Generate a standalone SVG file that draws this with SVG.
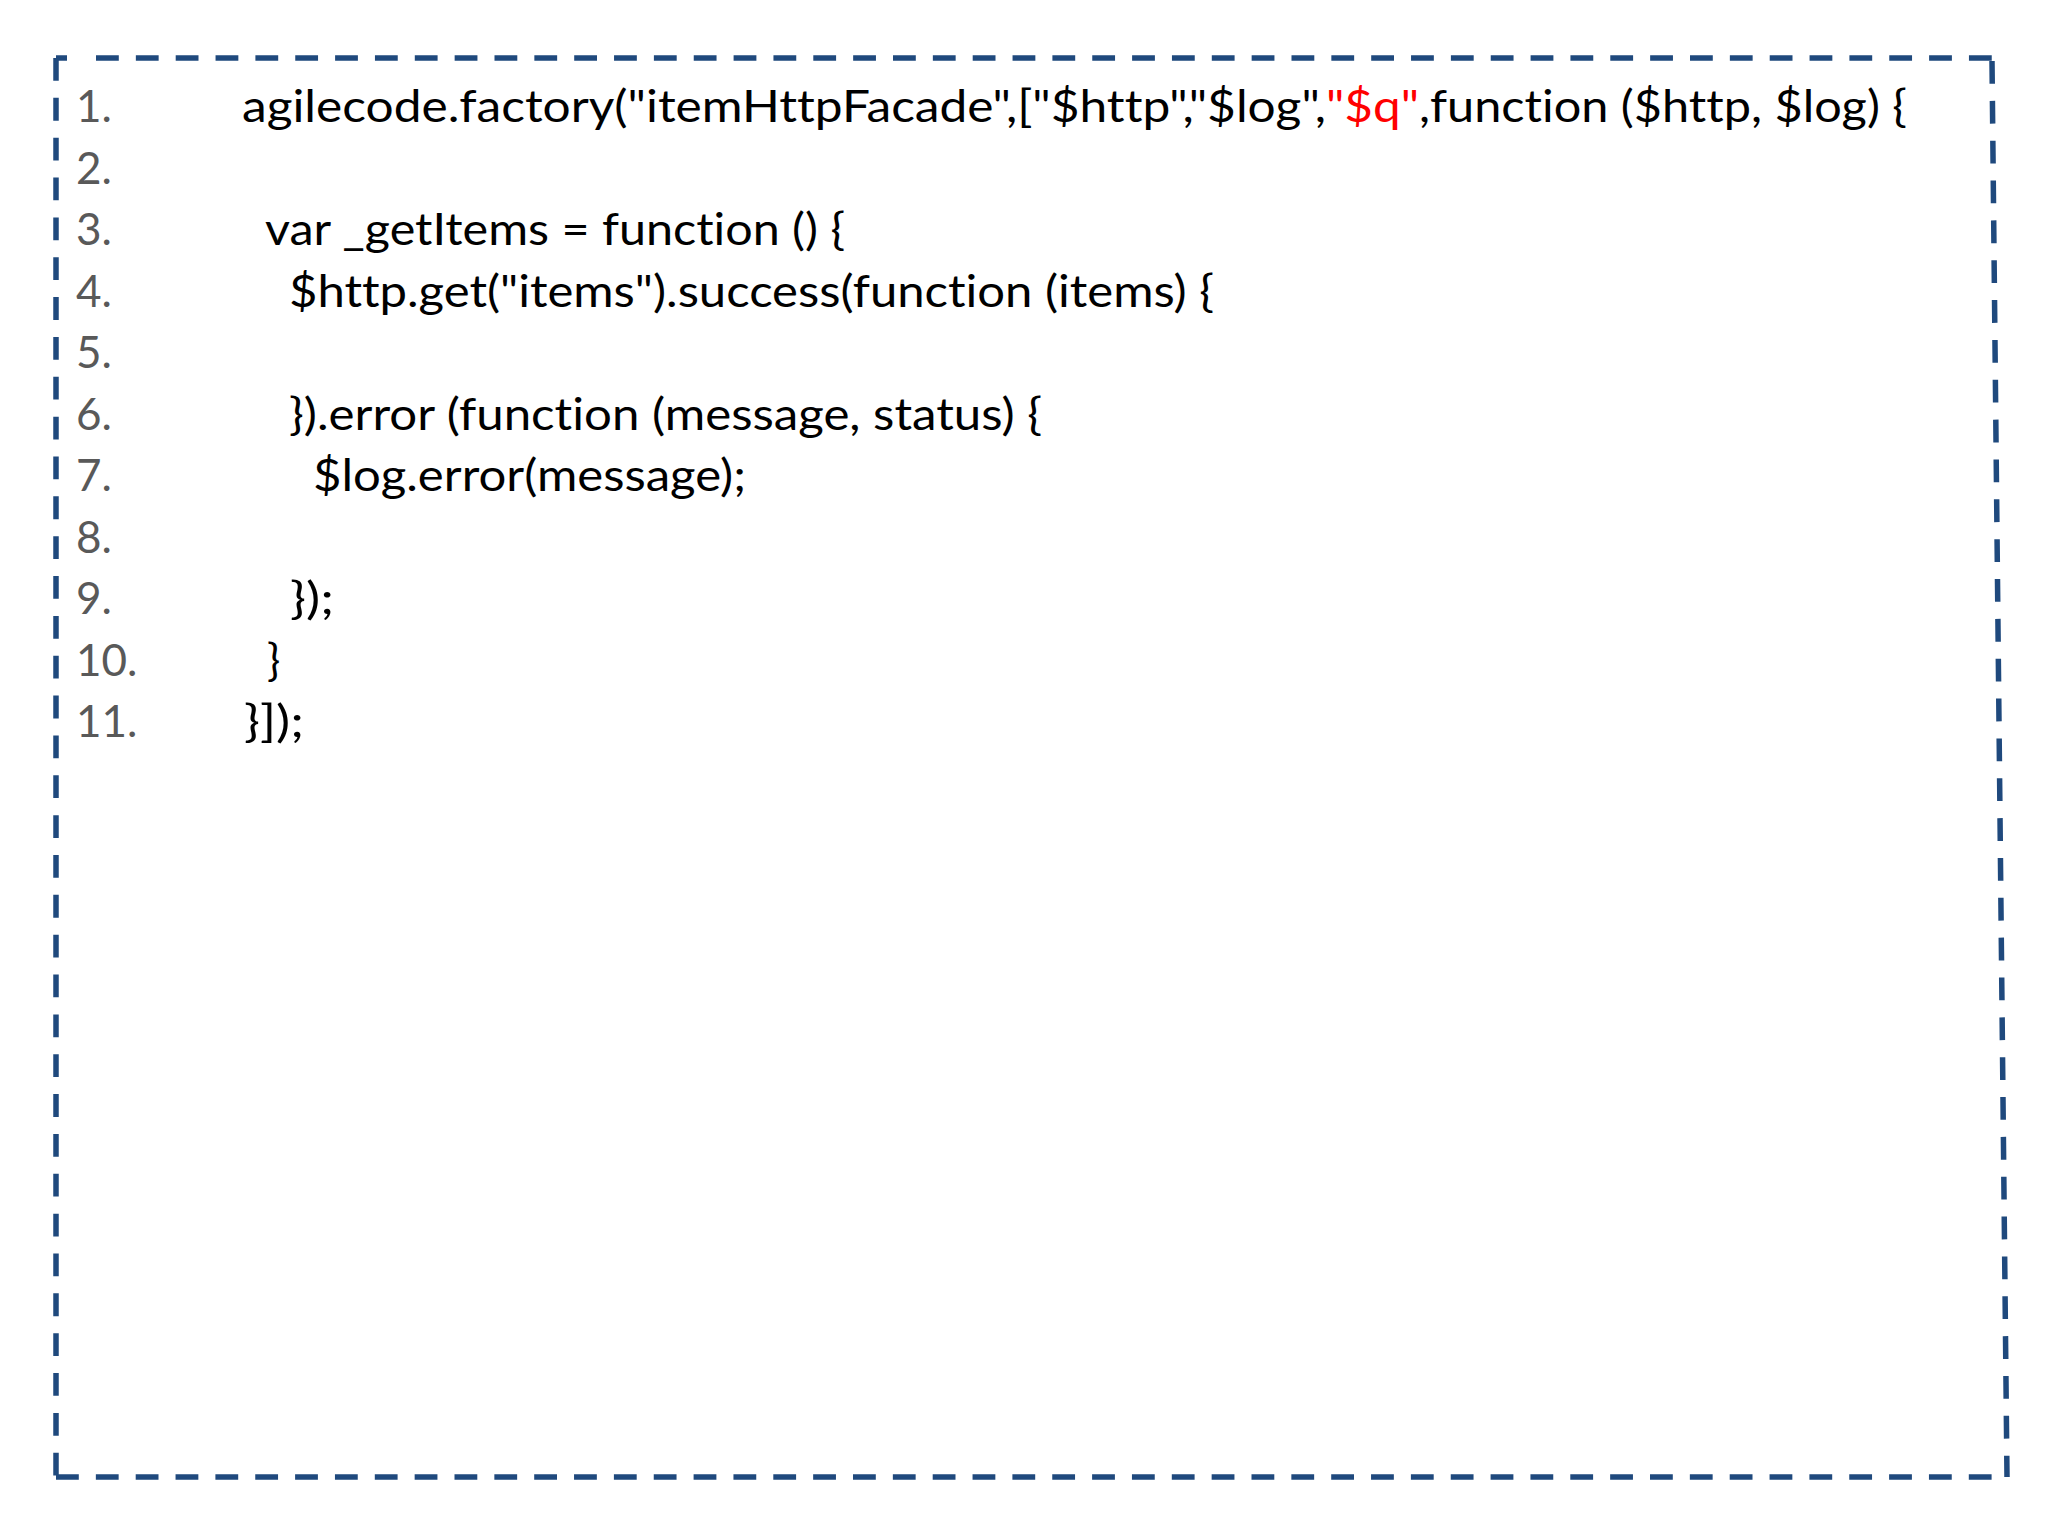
<svg xmlns="http://www.w3.org/2000/svg" width="2048" height="1536" viewBox="0 0 2048 1536">
<style>
.frame{stroke:#1F497D;stroke-width:5.5;fill:none;stroke-dasharray:22.8 17.05}
.solid{stroke:#1F497D;stroke-width:5.5;fill:none}
.num{font-family:Lato,"Liberation Sans",sans-serif;font-size:44px;fill:#595959;font-variant-ligatures:none;font-feature-settings:"liga" 0,"clig" 0}
.code{font-family:Lato,"Liberation Sans",sans-serif;font-size:44px;fill:#000000;font-variant-ligatures:none;font-feature-settings:"liga" 0,"clig" 0}
.red{fill:#FF0000}
</style>
<rect x="0" y="0" width="2048" height="1536" fill="#FFFFFF"/>
<g id="frame">
<line class="solid" x1="56" y1="58" x2="67" y2="58"/>
<line class="frame" x1="56" y1="58" x2="56" y2="1477"/>
<line class="frame" x1="96" y1="58" x2="1992" y2="58"/>
<line class="frame" x1="1992" y1="61" x2="2007" y2="1477"/>
<line class="frame" x1="56" y1="1477" x2="2007" y2="1477"/>
</g>
<g id="line-numbers">
<text class="num" x="76" y="122">1.</text>
<text class="num" x="76" y="183.5">2.</text>
<text class="num" x="76" y="245">3.</text>
<text class="num" x="76" y="306.5">4.</text>
<text class="num" x="76" y="368">5.</text>
<text class="num" x="76" y="429.5">6.</text>
<text class="num" x="76" y="491">7.</text>
<text class="num" x="76" y="552.5">8.</text>
<text class="num" x="76" y="614">9.</text>
<text class="num" x="76" y="675.5">10.</text>
<text class="num" x="76" y="737">11.</text>
</g>
<g id="code">
<text class="code" y="122" xml:space="preserve"><tspan x="242" textLength="1084" lengthAdjust="spacingAndGlyphs">agilecode.factory("itemHttpFacade",["$http","$log",</tspan><tspan class="red" x="1326" textLength="93" lengthAdjust="spacingAndGlyphs">"$q"</tspan><tspan x="1419" textLength="488" lengthAdjust="spacingAndGlyphs">,function ($http, $log) {</tspan></text>
<text class="code" x="265" y="245" textLength="580" lengthAdjust="spacingAndGlyphs">var _getItems = function () {</text>
<text class="code" x="289" y="306.5" textLength="925" lengthAdjust="spacingAndGlyphs">$http.get("items").success(function (items) {</text>
<text class="code" x="289" y="429.5" textLength="753" lengthAdjust="spacingAndGlyphs">}).error (function (message, status) {</text>
<text class="code" x="313" y="491" textLength="433" lengthAdjust="spacingAndGlyphs">$log.error(message);</text>
<text class="code" x="290" y="614" textLength="44" lengthAdjust="spacingAndGlyphs">});</text>
<text class="code" x="267" y="675.5">}</text>
<text class="code" x="244" y="737" textLength="60" lengthAdjust="spacingAndGlyphs">}]);</text>
</g>
</svg>
